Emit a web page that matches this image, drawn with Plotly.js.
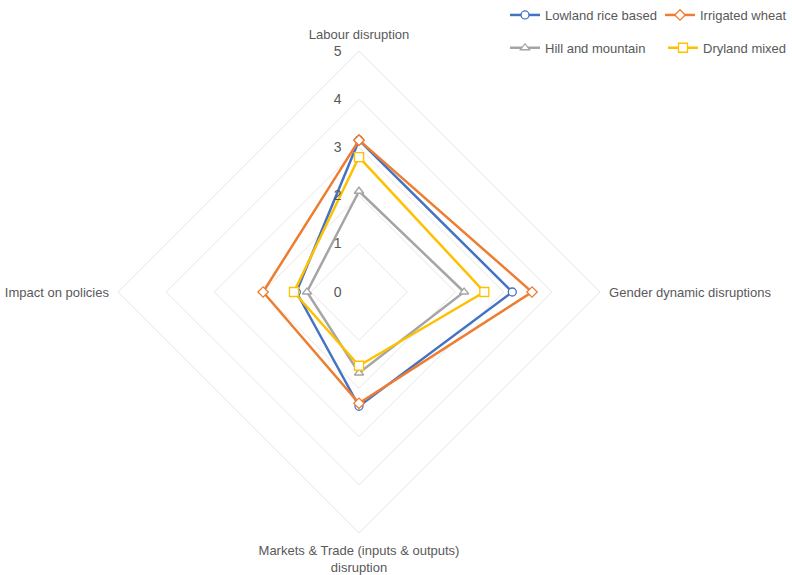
<!DOCTYPE html>
<html>
<head>
<meta charset="utf-8">
<script src="https://cdn.plot.ly/plotly-3.0.1.min.js"></script>
<style>html,body{margin:0;padding:0;background:#fff}#chart{width:792px;height:575px}</style>
</head>
<body>
<div id="chart"></div>
<script>
const categories = ["Labour disruption", "Gender dynamic disruptions", "Markets & Trade (inputs & outputs)<br>disruption", "Impact on policies"];
const seriesNames = ["Lowland rice based", "Irrigated wheat", "Hill and mountain", "Dryland mixed"];
const lowlandRice = [3.15, 3.18, 2.37, 1.30];
const irrigatedWheat = [3.15, 3.59, 2.31, 1.99];
const hillMountain = [2.09, 2.18, 1.68, 1.08];
const drylandMixed = [2.80, 2.60, 1.53, 1.35];
const radialTicks = [0, 1, 2, 3, 4, 5];

const colors = ["#4472C4", "#ED7D31", "#A5A5A5", "#FFC000"];
const symbols = ["circle", "diamond", "triangle-up", "square"];
const allValues = [lowlandRice, irrigatedWheat, hillMountain, drylandMixed];
const legendIds = ["legend", "legend2", "legend3", "legend4"];

const traces = allValues.map((vals, i) => ({
  type: "scatterpolar",
  mode: "lines+markers",
  name: seriesNames[i],
  r: vals.concat([vals[0]]),
  theta: categories.concat([categories[0]]),
  line: {color: colors[i], width: 2.5},
  marker: {symbol: symbols[i], size: i === 3 ? 9 : 8, color: "#ffffff", line: {color: colors[i], width: 1.3}},
  legend: legendIds[i],
  cliponaxis: false
}));

const legendBase = {
  orientation: "h",
  yanchor: "top",
  font: {family: "Liberation Sans, Arial, sans-serif", size: 13, color: "#595959"},
  itemwidth: 30,
  bgcolor: "rgba(0,0,0,0)"
};
const leftCol = {xanchor: "left", x: 505 / 792};
const rightCol = {xanchor: "right", x: 1.0};

const layout = {
  width: 792,
  height: 575,
  margin: {l: 0, r: 0, t: 0, b: 0},
  paper_bgcolor: "#ffffff",
  font: {family: "Liberation Sans, Arial, sans-serif", size: 13, color: "#595959"},
  showlegend: true,
  legend: Object.assign({}, legendBase, leftCol, {y: 1.0}),
  legend2: Object.assign({}, legendBase, rightCol, {y: 1.0}),
  legend3: Object.assign({}, legendBase, leftCol, {y: 0.943}),
  legend4: Object.assign({}, legendBase, rightCol, {y: 0.943}),
  polar: {
    domain: {x: [118/792, 600/792], y: [42/575, 524/575]},
    gridshape: "linear",
    bgcolor: "#ffffff",
    radialaxis: {
      range: [0, 5],
      tickvals: radialTicks,
      ticktext: radialTicks.map(String),
      angle: 90,
      tickangle: 90,
      showline: false,
      ticks: "outside",
      ticklen: 12,
      tickcolor: "rgba(0,0,0,0)",
      gridcolor: "#e6e6e6",
      gridwidth: 1,
      tickfont: {size: 14, color: "#595959"},
      side: "counterclockwise"
    },
    angularaxis: {
      rotation: 90,
      direction: "clockwise",
      showgrid: false,
      showline: true,
      linecolor: "#e6e6e6",
      linewidth: 1,
      ticks: "outside",
      ticklen: 6,
      tickcolor: "rgba(0,0,0,0)",
      tickfont: {size: 13, color: "#595959"}
    }
  }
};

Plotly.newPlot("chart", traces, layout, {displayModeBar: false, staticPlot: true});
</script>
</body>
</html>
